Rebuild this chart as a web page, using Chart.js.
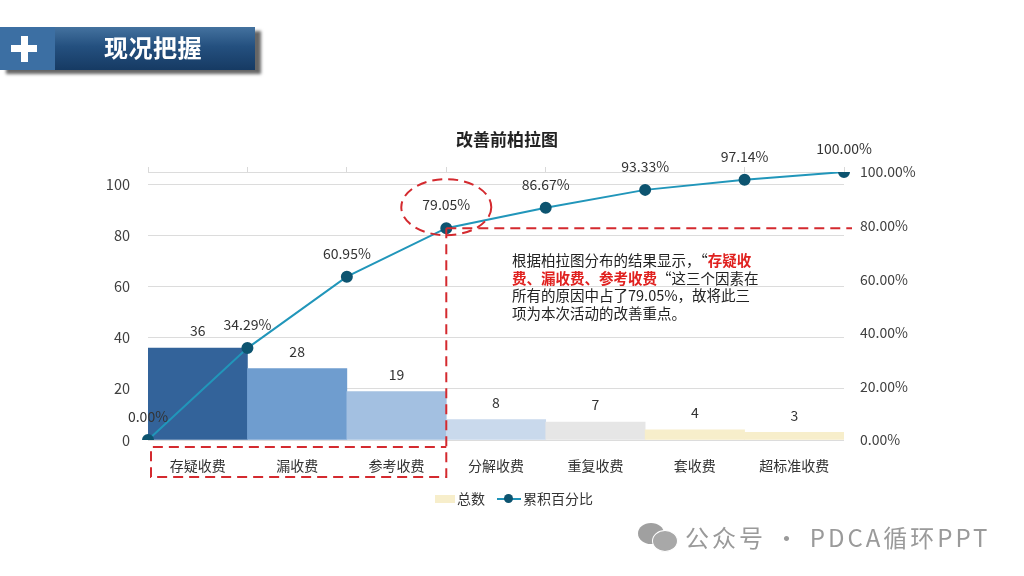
<!DOCTYPE html>
<html>
<head>
<meta charset="utf-8">
<script src="https://cdn.jsdelivr.net/npm/chart.js@4.4.1/dist/chart.umd.min.js"></script>
<style>
body { margin: 0; width: 1024px; height: 576px; overflow: hidden; background: #fff; position: relative;
  font-family: "Noto Sans CJK SC", "Noto Sans", sans-serif; }
#pareto { position: absolute; left: 0; top: 0; }
.abs { position: absolute; }
#banner { left: 0; top: 27px; width: 255px; height: 43px;
  background: linear-gradient(to bottom, #44729f 0%, #24507f 45%, #163a63 100%);
  box-shadow: 6px 4px 3px rgba(0,0,0,0.6); }
#banner .plusbox { position: absolute; left: 0; top: 0; width: 55px; height: 43px; background: #3c6fa3; }
#banner .h { position: absolute; left: 11px; top: 18px; width: 26px; height: 7px; background: #fff; }
#banner .v { position: absolute; left: 20.5px; top: 8.5px; width: 7px; height: 26px; background: #fff; }
#banner span { position: absolute; left: 104px; top: 2px; color: #fff; font-size: 24px; font-weight: bold; letter-spacing: 0.5px; }
#title { left: 0; width: 1014px; top: 126px; text-align: center; font-size: 17px; font-weight: bold; color: #222; }
#note { left: 512px; top: 251px; font-size: 14.5px; line-height: 17.6px; color: #222; white-space: nowrap; }
#note b { color: #e0211f; }
#legend { left: 435px; top: 488px; font-size: 14px; color: #333; }
#legend .box { position: absolute; left: 0; top: 7px; width: 20px; height: 8px; background: #f7eecb; }
#legend .t1 { position: absolute; left: 22px; top: 0; white-space: nowrap; }
#legend .ln { position: absolute; left: 62px; top: 10px; width: 24px; height: 2px; background: #1f93b8; }
#legend .dot { position: absolute; left: 69px; top: 6px; width: 9px; height: 9px; border-radius: 50%; background: #0d5470; }
#legend .t2 { position: absolute; left: 88px; top: 0; white-space: nowrap; }
#wx { left: 685px; top: 519px; font-size: 24px; letter-spacing: 3px; color: #9a9a9a; white-space: nowrap; }
.bub1 { left: 638px; top: 523px; width: 26px; height: 21px; border-radius: 50%; background: #a0a0a0; }
.bub2 { left: 652px; top: 530px; width: 24px; height: 20px; border-radius: 50%; background: #a8a8a8; border: 1.5px solid #fff; }
</style>
</head>
<body>
<canvas id="pareto" width="1024" height="576"></canvas>

<div id="banner" class="abs"><div class="plusbox"><div class="h"></div><div class="v"></div></div><span>现况把握</span></div>
<div id="title" class="abs">改善前柏拉图</div>
<div id="note" class="abs">根据柏拉图分布的结果显示，“<b>存疑收</b><br><b>费、漏收费、参考收费</b>“这三个因素在<br>所有的原因中占了79.05%，故将此三<br>项为本次活动的改善重点。</div>
<div id="legend" class="abs"><div class="box"></div><div class="t1">总数</div><div class="ln"></div><div class="dot"></div><div class="t2">累积百分比</div></div>
<div class="abs bub1"></div><div class="abs bub2"></div>
<div id="wx" class="abs">公众号 · PDCA循环PPT</div>

<script>
// 数据
const categories = ['存疑收费', '漏收费', '参考收费', '分解收费', '重复收费', '套收费', '超标准收费'];
const counts = [36, 28, 19, 8, 7, 4, 3];
const cumulativePct = [0, 34.29, 60.95, 79.05, 86.67, 93.33, 97.14, 100];
const pointLabels = ['起点', '存疑收费', '漏收费', '参考收费', '分解收费', '重复收费', '套收费', '超标准收费'];
const countTicks = [0, 20, 40, 60, 80, 100, 105];
const pctTicks = [0, 20, 40, 60, 80, 100];
const barColors = ['#33639a', '#6f9dcf', '#a3c0e1', '#c9d9ec', '#e6e6e6', '#f7eecb', '#f7eecb'];
const focusIndex = 3; // 前三项的分界点

const font = '"Noto Sans CJK SC", "Noto Sans", sans-serif';

// 标签和红色虚线标注
const annotate = {
    id: 'annotate',
    afterDatasetsDraw(chart) {
        const { ctx, chartArea: a, scales } = chart;
        ctx.save();
        ctx.font = '14px ' + font;
        ctx.fillStyle = '#333';
        ctx.textAlign = 'center';
        ctx.textBaseline = 'middle';
        chart.getDatasetMeta(1).data.forEach((bar, i) => ctx.fillText(counts[i], bar.x, bar.y - 17));
        chart.getDatasetMeta(0).data.forEach((pt, i) => ctx.fillText(cumulativePct[i].toFixed(2) + '%', pt.x, pt.y - 23));

        const bx = scales.x2.getPixelForValue(focusIndex);
        const by = scales.y1.getPixelForValue(cumulativePct[focusIndex]);
        ctx.strokeStyle = '#d42a2f';
        ctx.lineWidth = 2;
        ctx.setLineDash([10, 6]);
        ctx.beginPath();
        ctx.ellipse(bx, by - 21, 45, 28, 0, 0, Math.PI * 2);
        ctx.stroke();
        ctx.beginPath();
        ctx.moveTo(bx, by);
        ctx.lineTo(a.right + 8, by);
        ctx.stroke();
        ctx.beginPath();
        ctx.moveTo(bx, by);
        ctx.lineTo(bx, a.bottom + 37);
        ctx.lineTo(a.left + 3, a.bottom + 37);
        ctx.lineTo(a.left + 3, a.bottom + 7);
        ctx.lineTo(bx, a.bottom + 7);
        ctx.stroke();
        ctx.restore();
    }
};

const ctx = document.getElementById('pareto').getContext('2d');
new Chart(ctx, {
    type: 'bar',
    data: {
        datasets: [{
            type: 'line',
            label: '累积百分比',
            data: cumulativePct,
            xAxisID: 'x2',
            yAxisID: 'y1',
            borderColor: '#2196ba',
            borderWidth: 2,
            pointRadius: 5,
            pointBackgroundColor: '#0d5470',
            pointBorderColor: '#0d5470',
            tension: 0,
            order: 0
        }, {
            label: '总数',
            data: counts,
            xAxisID: 'x',
            yAxisID: 'y',
            backgroundColor: barColors,
            barPercentage: 1,
            categoryPercentage: 1,
            grouped: false,
            order: 1
        }]
    },
    options: {
        responsive: false,
        animation: false,
        layout: { padding: 0 },
        plugins: { legend: { display: false }, tooltip: { enabled: false } },
        scales: {
            x: {
                type: 'category',
                labels: categories,
                offset: true,
                grid: { display: false },
                border: { display: false },
                ticks: { padding: 9, color: '#333', font: { size: 14, family: font } },
                afterFit(s) { s.height = 136; }
            },
            x2: { type: 'category', labels: pointLabels, offset: false, display: false },
            xTop: {
                type: 'category',
                position: 'top',
                labels: categories,
                offset: true,
                grid: { offset: true, drawOnChartArea: false, tickLength: 5, color: '#d9d9d9' },
                border: { display: false },
                ticks: { display: false },
                afterFit(s) { s.height = 172; }
            },
            y: {
                position: 'left',
                min: 0,
                max: 105,
                afterBuildTicks(s) { s.ticks = countTicks.map(v => ({ value: v })); },
                ticks: {
                    callback: v => (v === 105 ? '' : v),
                    padding: 18,
                    color: '#404040',
                    font: { size: 14.5, family: font }
                },
                grid: { color: '#dcdcdc', drawTicks: false },
                border: { display: false },
                afterFit(s) { s.width = 148; }
            },
            y1: {
                position: 'right',
                min: 0,
                max: 100,
                afterBuildTicks(s) { s.ticks = pctTicks.map(v => ({ value: v })); },
                ticks: {
                    callback: v => v.toFixed(2) + '%',
                    padding: 16,
                    color: '#404040',
                    font: { size: 14, family: font }
                },
                grid: { display: false, drawTicks: false },
                border: { display: false },
                afterFit(s) { s.width = 180; }
            }
        }
    },
    plugins: [annotate]
});
</script>
</body>
</html>
